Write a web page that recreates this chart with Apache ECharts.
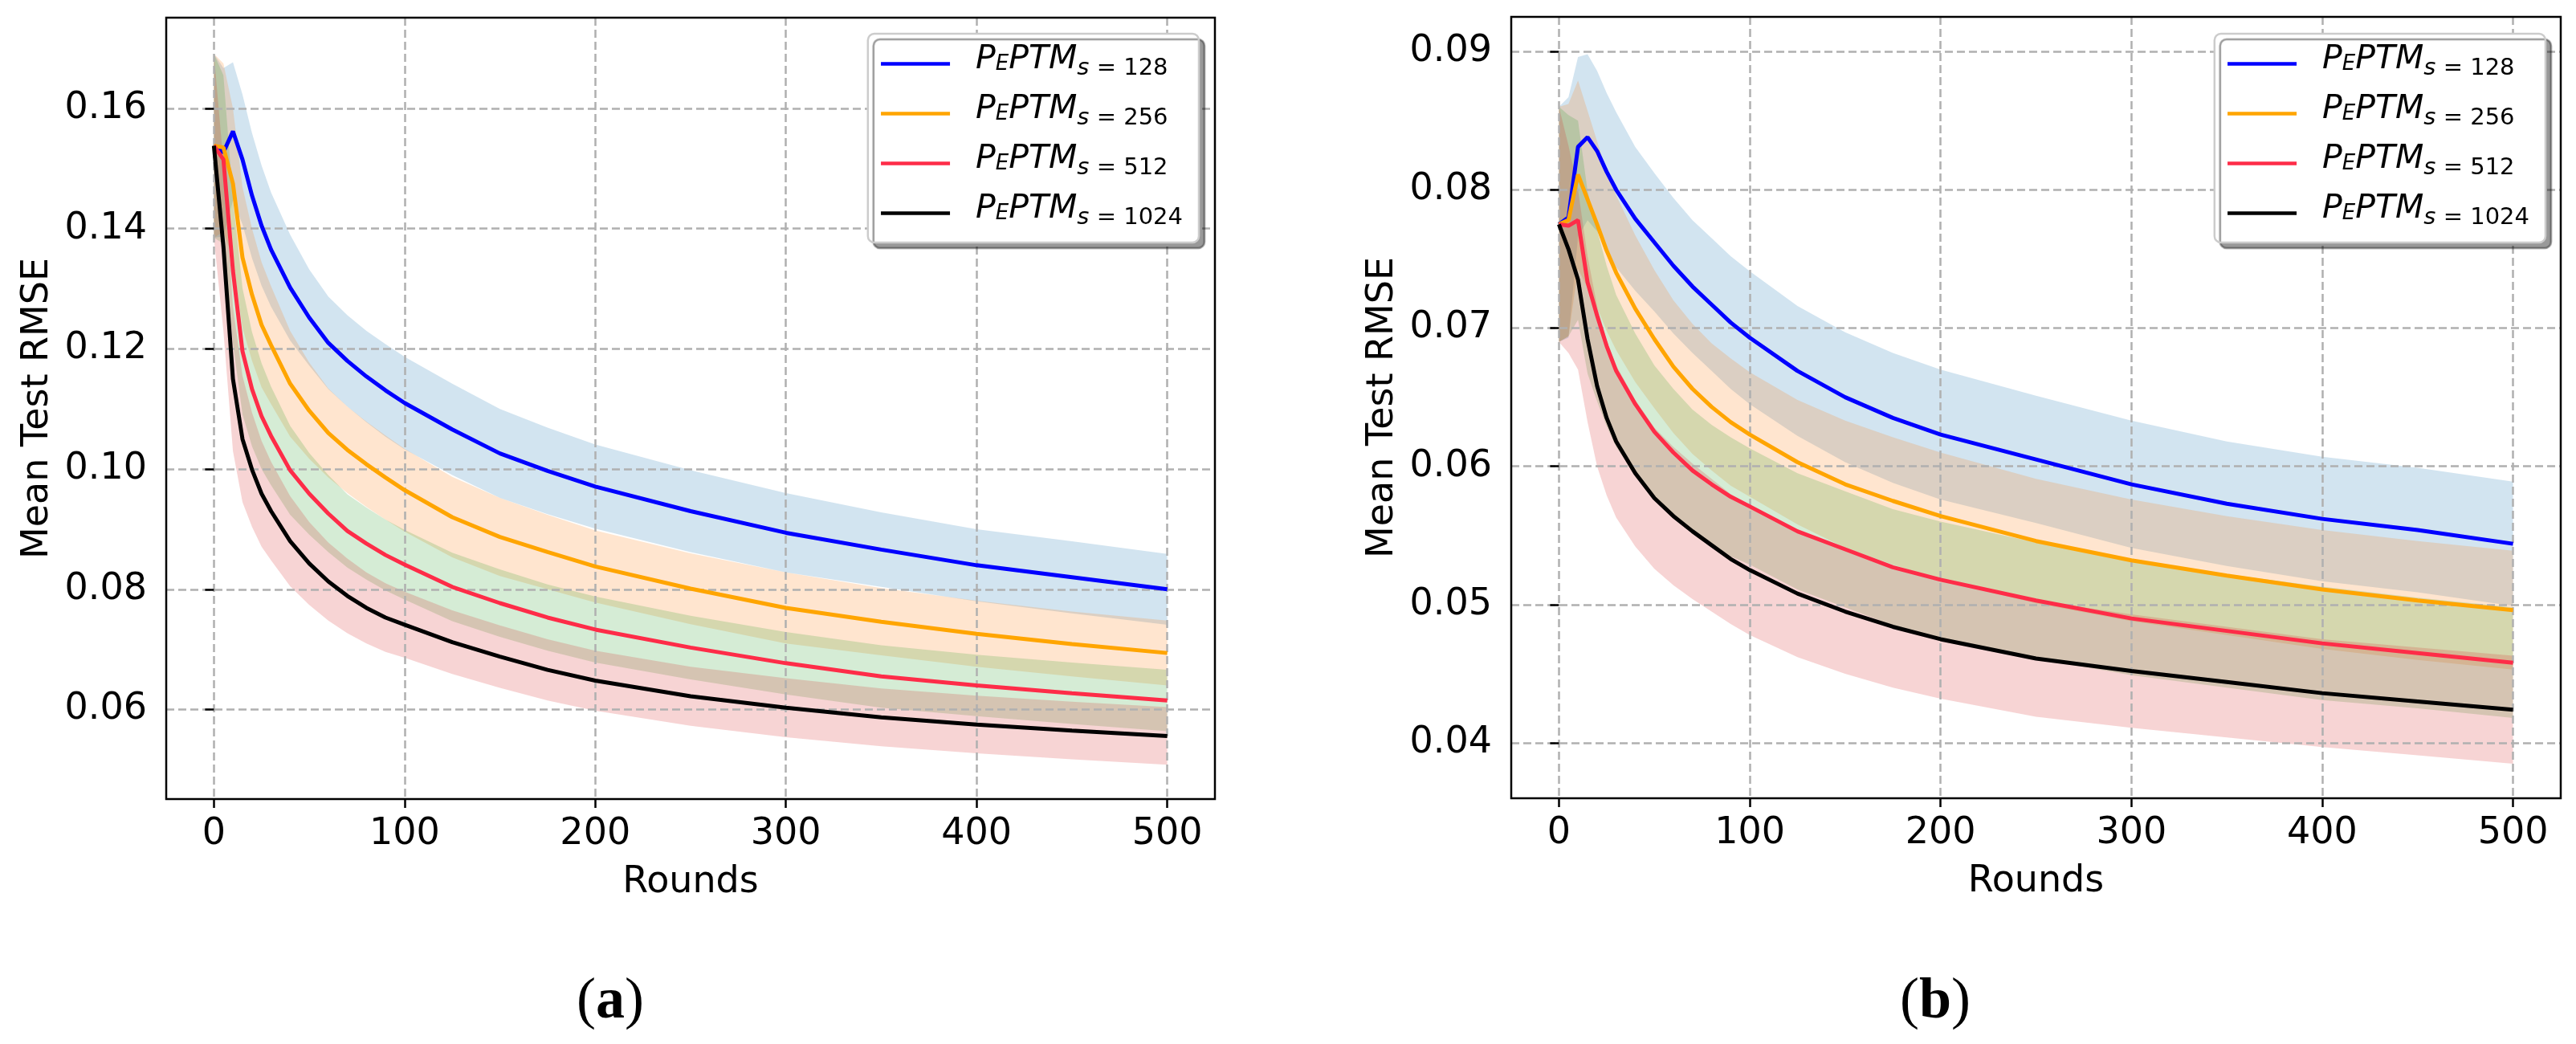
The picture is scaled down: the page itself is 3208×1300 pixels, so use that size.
<!DOCTYPE html>
<html>
<head>
<meta charset="utf-8">
<script src="https://cdn.jsdelivr.net/npm/echarts@6.0.0/dist/echarts.min.js"></script>
<style>
html,body{margin:0;padding:0;background:#fff;}
#chart{width:3208px;height:1300px;}
</style>
</head>
<body>
<div id="chart"></div>
<script>
const rounds = [0,5,10,15,20,25,30,40,50,60,70,80,90,100,125,150,175,200,250,300,350,400,450,500];

// panel (a)
const meanA128  = [0.1538,0.1527,0.1562,0.1515,0.1455,0.1405,0.1365,0.1302,0.1252,0.1210,0.1180,0.1154,0.1131,0.1110,0.1066,0.1026,0.0997,0.0971,0.0930,0.0894,0.0866,0.0840,0.0820,0.0800];
const stdA128   = [0.0153,0.0140,0.0115,0.0108,0.0104,0.0100,0.0095,0.0088,0.0080,0.0077,0.0076,0.0076,0.0077,0.0077,0.0076,0.0074,0.0072,0.0070,0.0068,0.0066,0.0062,0.0060,0.0060,0.0059];
const meanA256  = [0.1538,0.1535,0.1475,0.1352,0.1290,0.1240,0.1206,0.1142,0.1097,0.1060,0.1032,0.1008,0.0986,0.0965,0.0920,0.0887,0.0862,0.0838,0.0801,0.0769,0.0746,0.0726,0.0709,0.0694];
const stdA256   = [0.0153,0.0140,0.0125,0.0117,0.0110,0.0104,0.0098,0.0088,0.0080,0.0074,0.0072,0.0071,0.0070,0.0069,0.0067,0.0065,0.0062,0.0060,0.0059,0.0059,0.0056,0.0055,0.0054,0.0054];
const meanA512  = [0.1538,0.1515,0.1330,0.1196,0.1133,0.1088,0.1055,0.0998,0.0959,0.0926,0.0897,0.0876,0.0857,0.0841,0.0804,0.0777,0.0753,0.0733,0.0703,0.0677,0.0655,0.0640,0.0627,0.0615];
const stdA512   = [0.0153,0.0140,0.0120,0.0105,0.0095,0.0088,0.0082,0.0074,0.0068,0.0064,0.0061,0.0060,0.0059,0.0058,0.0057,0.0056,0.0055,0.0055,0.0053,0.0052,0.0052,0.0051,0.0051,0.0051];
const meanA1024 = [0.1538,0.1370,0.1150,0.1050,0.0999,0.0959,0.0930,0.0880,0.0843,0.0813,0.0789,0.0769,0.0753,0.0741,0.0712,0.0688,0.0666,0.0648,0.0622,0.0603,0.0587,0.0575,0.0565,0.0556];
const stdA1024  = [0.0153,0.0140,0.0120,0.0105,0.0095,0.0088,0.0082,0.0075,0.0069,0.0065,0.0062,0.0059,0.0057,0.0055,0.0053,0.0052,0.0051,0.0050,0.0049,0.0049,0.0048,0.0048,0.0048,0.0048];

// panel (b)
const meanB128  = [0.0775,0.0780,0.0831,0.0838,0.0828,0.0813,0.0800,0.0779,0.0762,0.0745,0.0730,0.0717,0.0704,0.0693,0.0669,0.0650,0.0635,0.0623,0.0605,0.0587,0.0573,0.0562,0.0554,0.0544];
const stdB128   = [0.0085,0.0087,0.0065,0.0060,0.0058,0.0057,0.0056,0.0052,0.0050,0.0049,0.0048,0.0048,0.0048,0.0048,0.0047,0.0047,0.0047,0.0047,0.0046,0.0046,0.0045,0.0045,0.0045,0.0045];
const meanB256  = [0.0775,0.0778,0.0811,0.0793,0.0775,0.0756,0.0740,0.0714,0.0692,0.0672,0.0656,0.0643,0.0632,0.0623,0.0603,0.0587,0.0575,0.0564,0.0546,0.0532,0.0521,0.0511,0.0503,0.0496];
const stdB256   = [0.0085,0.0084,0.0068,0.0064,0.0060,0.0058,0.0056,0.0053,0.0050,0.0048,0.0047,0.0046,0.0046,0.0045,0.0045,0.0046,0.0046,0.0046,0.0045,0.0044,0.0043,0.0043,0.0043,0.0043];
const meanB512  = [0.0775,0.0774,0.0778,0.0733,0.0709,0.0687,0.0669,0.0645,0.0625,0.0610,0.0597,0.0587,0.0578,0.0571,0.0553,0.0540,0.0527,0.0518,0.0503,0.0490,0.0481,0.0472,0.0465,0.0458];
const stdB512   = [0.0085,0.0080,0.0072,0.0066,0.0062,0.0058,0.0055,0.0051,0.0048,0.0046,0.0044,0.0043,0.0043,0.0042,0.0042,0.0042,0.0042,0.0042,0.0042,0.0041,0.0041,0.0041,0.0040,0.0040];
const meanB1024 = [0.0775,0.0757,0.0735,0.0692,0.0658,0.0635,0.0618,0.0595,0.0577,0.0564,0.0553,0.0543,0.0533,0.0525,0.0508,0.0495,0.0484,0.0475,0.0461,0.0452,0.0444,0.0436,0.0430,0.0424];
const stdB1024  = [0.0085,0.0075,0.0065,0.0060,0.0058,0.0056,0.0055,0.0053,0.0051,0.0050,0.0049,0.0048,0.0047,0.0047,0.0046,0.0045,0.0044,0.0043,0.0042,0.0041,0.0040,0.0039,0.0039,0.0039];

const sizes = ['128', '256', '512', '1024'];
const xTicks = [0, 100, 200, 300, 400, 500];
const yTicksA = [0.06, 0.08, 0.10, 0.12, 0.14, 0.16];
const yTicksB = [0.04, 0.05, 0.06, 0.07, 0.08, 0.09];
const captions = ['a', 'b'];

const lineColors = ['#0000ff', '#ffa500', '#fe2c48', '#000000'];
const bandColors = ['#1f77b4', '#ff7f0e', '#2ca02c', '#d62728'];
const FONT = 'DejaVu Sans';

let $chart = echarts.init(document.getElementById('chart'));

const panels = [
	{means: [meanA128, meanA256, meanA512, meanA1024], stds: [stdA128, stdA256, stdA512, stdA1024]},
	{means: [meanB128, meanB256, meanB512, meanB1024], stds: [stdB128, stdB256, stdB512, stdB1024]}
];
const names = sizes.map(s => 'PEPTM_s=' + s);

let series = [];
panels.forEach((p, pi) => {
	// mean +- std band as one polygon, under the grid lines
	p.means.forEach((m, k) => {
		const sd = p.stds[k];
		const lo = m.map((v, i) => v - sd[i]);
		const hi = m.map((v, i) => v + sd[i]);
		series.push({
			type: 'custom', name: 'band' + pi + k, xAxisIndex: pi, yAxisIndex: pi,
			silent: true, z: 1,
			data: rounds.map((r, i) => [r, lo[i], hi[i]]),
			encode: {x: 0, y: [1, 2]},
			renderItem: (params, api) => {
				if (params.dataIndex !== 0) return null;
				const top = rounds.map((r, i) => api.coord([r, hi[i]]));
				const bot = rounds.map((r, i) => api.coord([r, lo[i]])).reverse();
				return {
					type: 'polygon',
					shape: {points: top.concat(bot)},
					style: {fill: bandColors[k], opacity: 0.2}
				};
			}
		});
	});
	p.means.forEach((m, k) => {
		series.push({
			type: 'line', xAxisIndex: pi, yAxisIndex: pi, name: names[k],
			symbol: 'none', z: 3, color: lineColors[k],
			lineStyle: {color: lineColors[k], width: 5},
			data: rounds.map((r, i) => [r, m[i]])
		});
	});
});

const grids = [
	{left: 207, top: 22, width: 1306, height: 973},
	{left: 1882, top: 21, width: 1307, height: 973}
];
const yRanges = [[0.0451, 0.1751, 6, yTicksA], [0.0360, 0.0925, 5, yTicksB]];

function legendFor(right) {
	return {
		data: names, orient: 'vertical', right: right, top: 42, selectedMode: false,
		padding: [8, 20, 16, 14], itemWidth: 86, itemHeight: 20, itemGap: 12,
		itemStyle: {opacity: 0},
		lineStyle: {width: 4.5},
		backgroundColor: '#fff', borderColor: '#cccccc', borderWidth: 2.5, borderRadius: 8,
		shadowColor: 'rgba(0,0,0,0.4)', shadowBlur: 1, shadowOffsetX: 7, shadowOffsetY: 7,
		formatter: n => '{i|P}{e|E}{i|PTM}{s|s}{n| = ' + n.split('=')[1] + '}',
		textStyle: {
			padding: [0, 0, 0, 27],
			rich: {
				i: {fontFamily: FONT, fontStyle: 'italic', fontSize: 41, lineHeight: 41, color: '#000', verticalAlign: 'bottom', padding: [4, 0, 5, 0]},
				e: {fontFamily: FONT, fontStyle: 'italic', fontSize: 26, lineHeight: 26, color: '#000', verticalAlign: 'bottom', padding: [0, 0, 7, 0]},
				s: {fontFamily: FONT, fontStyle: 'italic', fontSize: 29, lineHeight: 29, color: '#000', verticalAlign: 'bottom'},
				n: {fontFamily: FONT, fontSize: 29, lineHeight: 29, color: '#000', verticalAlign: 'bottom'}
			}
		}
	};
}

const option = {
	animation: false,
	backgroundColor: '#fff',
	textStyle: {fontFamily: FONT},
	grid: grids.map(g => Object.assign({show: true, borderColor: '#000', borderWidth: 2.5, z: 10, backgroundColor: 'transparent'}, g)),
	xAxis: grids.map((g, gi) => ({
		gridIndex: gi, type: 'value', min: -25, max: 525, splitNumber: 5, z: 2,
		name: 'Rounds', nameLocation: 'middle', nameGap: 81,
		nameTextStyle: {fontSize: 46, color: '#000', fontFamily: FONT},
		axisLine: {show: false},
		axisTick: {show: true, inside: false, length: 11, lineStyle: {color: '#000', width: 2.5}, customValues: xTicks},
		axisLabel: {fontSize: 46, color: '#000', margin: 21, fontFamily: FONT, customValues: xTicks},
		splitLine: {show: true, lineStyle: {color: '#b0b0b0', width: 2.5, type: [10, 5]}}
	})),
	yAxis: grids.map((g, gi) => ({
		gridIndex: gi, type: 'value', min: yRanges[gi][0], max: yRanges[gi][1], splitNumber: yRanges[gi][2], z: 2,
		name: 'Mean Test RMSE', nameLocation: 'middle', nameGap: 137,
		nameTextStyle: {fontSize: 46, color: '#000', fontFamily: FONT},
		axisLine: {show: false},
		axisTick: {show: true, inside: false, length: 11, lineStyle: {color: '#000', width: 2.5}, customValues: yRanges[gi][3]},
		axisLabel: {fontSize: 46, color: '#000', margin: 24, fontFamily: FONT, customValues: yRanges[gi][3], formatter: v => v.toFixed(2)},
		splitLine: {show: true, lineStyle: {color: '#b0b0b0', width: 2.5, type: [10, 5]}}
	})),
	legend: [legendFor(1715), legendFor(38)],
	graphic: captions.map((c, ci) => ({
		type: 'text', x: ci === 0 ? 760 : 2410, y: 1248,
		style: {
			text: '{p|(}{b|' + c + '}{p|)}', align: 'center', verticalAlign: 'middle',
			rich: {
				p: {fontFamily: 'Liberation Serif', fontSize: 72, fill: '#000'},
				b: {fontFamily: 'Liberation Serif', fontSize: 72, fontWeight: 'bold', fill: '#000'}
			}
		}
	})),
	series: series
};

$chart.setOption(option, true);
</script>
</body>
</html>
